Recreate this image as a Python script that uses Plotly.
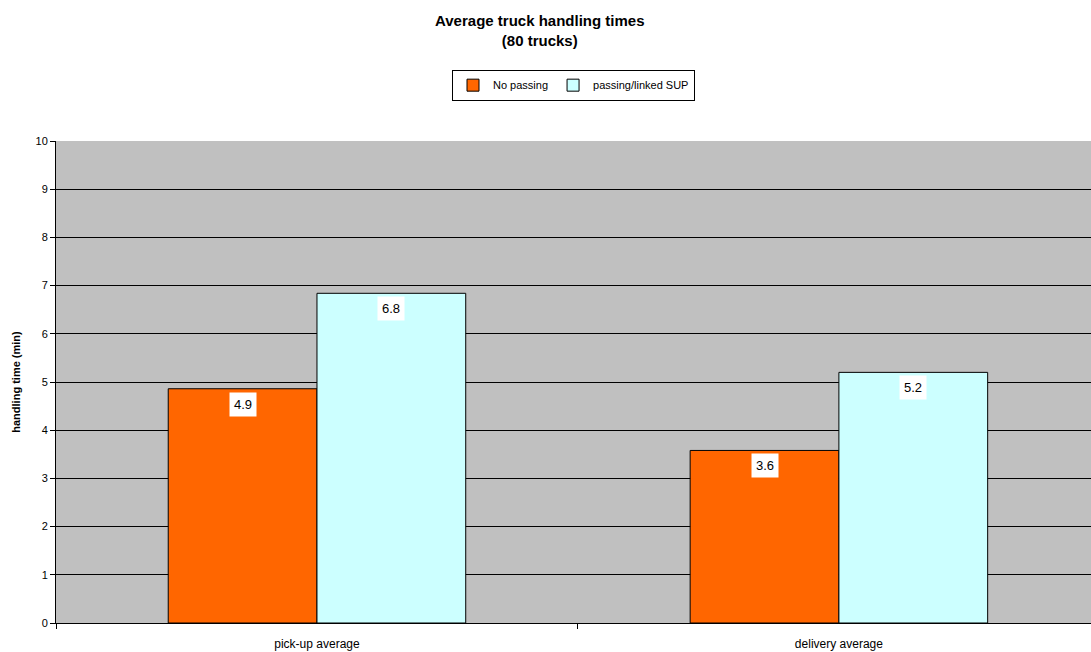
import plotly.graph_objects as go

categories = ["pick-up average", "delivery average"]
no_passing = [4.86, 3.58]
passing_linked = [6.84, 5.2]
series_names = ["No passing", "passing/linked SUP"]
label_no_passing = ["4.9", "3.6"]
label_passing = ["6.8", "5.2"]
y_ticks = list(range(0, 11))

FONT = "Liberation Sans, Arial, sans-serif"

fig = go.Figure()
fig.add_trace(go.Bar(x=categories, y=no_passing, name=series_names[0],
                     marker=dict(color="#FF6600", line=dict(color="black", width=1))))
fig.add_trace(go.Bar(x=categories, y=passing_linked, name=series_names[1],
                     marker=dict(color="#CCFFFF", line=dict(color="black", width=1))))

W, H = 1091, 652
ml, mr, mt, mb = 56, 0, 141, 29
bargap = 0.43
x_range = [-0.5, 1.483]
plot_w = W - ml - mr
cat_px = plot_w / (x_range[1] - x_range[0])
bar_px = cat_px * (1 - bargap) / 2

for vals, labs, sign in [(no_passing, label_no_passing, -1), (passing_linked, label_passing, 1)]:
    for c, v, t in zip(categories, vals, labs):
        fig.add_annotation(x=c, y=v, text=t, showarrow=False, xref="x", yref="y",
                           xshift=sign * bar_px / 2, yanchor="top", yshift=-3,
                           bgcolor="white", borderpad=4,
                           font=dict(family=FONT, size=13, color="black"))

fig.add_annotation(text="<b>Average truck handling times<br>(80 trucks)</b>",
                   xref="paper", yref="paper", x=0.468, y=1.272,
                   xanchor="center", yanchor="top", showarrow=False,
                   font=dict(family=FONT, size=15, color="black"))

fig.update_layout(
    width=W, height=H,
    margin=dict(l=ml, r=mr, t=mt, b=mb),
    barmode="group", bargap=bargap, bargroupgap=0,
    plot_bgcolor="#C0C0C0", paper_bgcolor="white",
    font=dict(family=FONT, size=11, color="black"),
    legend=dict(orientation="h", x=0.5, xanchor="center", y=1.148, yanchor="top",
                bordercolor="black", borderwidth=1, bgcolor="white",
                font=dict(family=FONT, size=11), itemwidth=30,
                tracegroupgap=0),
    xaxis=dict(type="category", tickson="boundaries", ticks="outside", ticklen=5,
               tickcolor="black", showline=True, linecolor="black", linewidth=1,
               showgrid=False, tickfont=dict(size=12), range=x_range,
               ticklabelstandoff=10),
    yaxis=dict(range=[0, 10], tickvals=y_ticks, ticks="outside", ticklen=5,
               tickcolor="black", showline=True, linecolor="black", linewidth=1,
               showgrid=True, gridcolor="black", gridwidth=1, zeroline=False,
               tickfont=dict(size=11),
               title=dict(text="<b>handling time (min)</b>", font=dict(size=11), standoff=12)),
)

fig.write_html("out.html")
